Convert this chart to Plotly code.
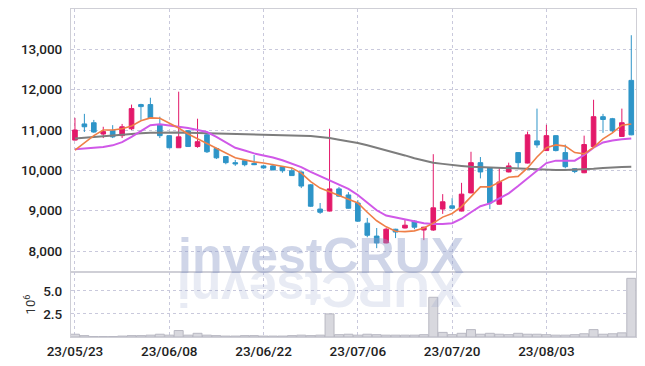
import plotly.graph_objects as go

dates = ["23/05/23", "23/05/24", "23/05/25", "23/05/26", "23/05/30", "23/05/31", "23/06/01", "23/06/02",
         "23/06/05", "23/06/07", "23/06/08", "23/06/09", "23/06/12", "23/06/13", "23/06/14", "23/06/15",
         "23/06/16", "23/06/19", "23/06/20", "23/06/21", "23/06/22", "23/06/23", "23/06/26", "23/06/27",
         "23/06/28", "23/06/29", "23/06/30", "23/07/03", "23/07/04", "23/07/05", "23/07/06", "23/07/07",
         "23/07/10", "23/07/11", "23/07/12", "23/07/13", "23/07/14", "23/07/17", "23/07/18", "23/07/19",
         "23/07/20", "23/07/21", "23/07/24", "23/07/25", "23/07/26", "23/07/27", "23/07/28", "23/07/31",
         "23/08/01", "23/08/02", "23/08/03", "23/08/04", "23/08/07", "23/08/08", "23/08/09", "23/08/10",
         "23/08/11", "23/08/14", "23/08/16", "23/08/17"]

open_ = [10750, 11150, 11180, 10900, 10980, 10860, 11030, 11630, 11630, 11130,
         10860, 10560, 10980, 10590, 10880, 10540, 10340, 10190, 10240, 10170,
         10110, 10110, 10090, 9990, 9960, 9640, 9040, 8990, 9540, 9390,
         9190, 8690, 8370, 8200, 8540, 8570, 8740, 8520, 8520, 9040,
         9120, 8990, 9440, 10190, 10060, 9160, 9960, 10440, 10180, 10730,
         10490, 10860, 10440, 10040, 9940, 10590, 11330, 11280, 10840, 12230]
high = [11300, 11400, 11250, 11080, 11120, 11150, 11630, 11650, 11800, 11330,
        10870, 11950, 11000, 11280, 10900, 10560, 10350, 10260, 10250, 10380,
        10140, 10160, 10100, 10060, 9970, 9660, 9190, 11030, 9590, 9460,
        9260, 8820, 8570, 8570, 8550, 8790, 8760, 8600, 10400, 9410,
        9310, 9690, 10460, 10330, 10070, 10060, 10190, 10450, 10960, 11530,
        11130, 10870, 10640, 10050, 10860, 11750, 11400, 11300, 11530, 13350]
low = [10740, 10950, 10930, 10800, 10800, 10800, 11000, 11250, 11280, 10800,
       10550, 10560, 10580, 10560, 10430, 10280, 10150, 10110, 10100, 10130,
       10040, 10000, 9940, 9860, 9560, 9090, 8920, 8980, 9350, 9050,
       8730, 8340, 8070, 8190, 8320, 8560, 8540, 8270, 8500, 8920,
       9050, 8980, 9430, 9800, 9040, 9150, 9950, 10060, 10170, 10560,
       10480, 10470, 10050, 9930, 9930, 10580, 10930, 10930, 10830, 10870]
close = [11000, 11080, 10950, 10960, 10830, 11080, 11530, 11580, 11300, 10860,
         10560, 10830, 10590, 10710, 10460, 10310, 10190, 10160, 10140, 10140,
         10060, 10010, 9990, 9870, 9610, 9110, 8960, 9540, 9360, 9060,
         8740, 8390, 8200, 8540, 8470, 8640, 8590, 8590, 9070, 9220,
         9060, 9410, 10190, 9960, 9190, 9710, 10110, 10190, 10880, 10630,
         10860, 10490, 10090, 9970, 10640, 11330, 11260, 10980, 11180, 10880]

ma_short = [10500, 10680, 10860, 11000, 11000, 11030, 11100, 11230, 11300, 11290,
            11180, 11050, 10900, 10780, 10680, 10560, 10430, 10310, 10260, 10210,
            10180, 10140, 10100, 10060, 9930, 9720, 9560, 9470, 9380, 9290,
            9190, 8960, 8750, 8600, 8490, 8480, 8500, 8570, 8690, 8840,
            8930, 9100, 9340, 9590, 9590, 9710, 9830, 9850, 10060, 10330,
            10560, 10630, 10600, 10440, 10410, 10570, 10780, 10930, 11120, 11150]
ma_mid = [10520, 10540, 10560, 10580, 10620, 10700, 10830, 10980, 11120, 11140,
          11110, 11080, 11050, 11000, 10950, 10830, 10690, 10560, 10490, 10420,
          10370, 10320, 10250, 10160, 10080, 9960, 9850, 9750, 9640, 9540,
          9390, 9200, 9010, 8880, 8830, 8790, 8740, 8690, 8670, 8670,
          8690, 8800, 8960, 9110, 9180, 9300, 9430, 9610, 9800, 9990,
          10180, 10240, 10240, 10240, 10380, 10560, 10690, 10740, 10770, 10790]
ma_long = [10790, 10810, 10830, 10850, 10870, 10890, 10900, 10920, 10930, 10935,
           10935, 10935, 10930, 10925, 10920, 10915, 10910, 10905, 10900, 10900,
           10895, 10890, 10880, 10870, 10860, 10850, 10830, 10800, 10760, 10720,
           10680, 10620, 10560, 10500, 10440, 10370, 10300, 10240, 10190, 10160,
           10130, 10110, 10090, 10080, 10070, 10060, 10050, 10040, 10030, 10020,
           10015, 10010, 10010, 10015, 10020, 10040, 10060, 10080, 10085, 10090]

volume = [0.3, 0.15, 0.05, 0.05, 0.05, 0.1, 0.15, 0.15, 0.2, 0.3,
          0.2, 0.7, 0.2, 0.4, 0.2, 0.15, 0.1, 0.1, 0.15, 0.15,
          0.1, 0.1, 0.1, 0.15, 0.2, 0.15, 0.2, 2.5, 0.25, 0.3,
          0.2, 0.3, 0.25, 0.2, 0.2, 0.2, 0.2, 0.25, 4.3, 0.5,
          0.25, 0.4, 0.8, 0.3, 0.4, 0.3, 0.25, 0.4, 0.3, 0.3,
          0.25, 0.2, 0.2, 0.25, 0.35, 0.8, 0.3, 0.35, 0.45, 6.35]

price_ticks = [8000, 9000, 10000, 11000, 12000, 13000]
volume_ticks = [2.5, 5.0]
date_ticks = [dates[i] for i in range(0, 60, 10)]
watermark = "investCRUX"

RED = "#e3196a"
BLUE = "#2e95c8"
GRID = "#c9c9dc"
LINE = "#cfcfd6"
FONT = "Roboto, Liberation Sans, sans-serif"
TICKFONT = dict(family=FONT, size=13.5, color="#1e1e1e", weight=500)

# the page body has an 8px margin, so the figure is sized to fill the window from there
OFF = 8
W, H = 645 - OFF, 366 - OFF
ML, MR, MT, MB = 71 - OFF, 9, 9 - OFF, 29
PW = W - ML - MR
PH = H - MT - MB
VOL_TOP = 0.198

fig = go.Figure()
fig.add_trace(go.Bar(x=dates, y=volume, yaxis="y2",
                     marker=dict(color="#d8d8de", line=dict(color="#b8b8c2", width=1)),
                     showlegend=False))
fig.add_trace(go.Candlestick(x=dates, open=open_, high=high, low=low, close=close,
                             increasing=dict(line=dict(color=RED, width=1), fillcolor=RED),
                             decreasing=dict(line=dict(color=BLUE, width=1), fillcolor=BLUE),
                             whiskerwidth=0, showlegend=False))
fig.add_trace(go.Scatter(x=dates, y=ma_long, mode="lines", line=dict(color="#7d7d7d", width=2), showlegend=False))
fig.add_trace(go.Scatter(x=dates, y=ma_mid, mode="lines", line=dict(color="#d058e8", width=2), showlegend=False))
fig.add_trace(go.Scatter(x=dates, y=ma_short, mode="lines", line=dict(color="#ef7f47", width=1.6), showlegend=False))

# watermark and its mirror image below the panel divider
wm_font = dict(family="Liberation Sans, Arial, sans-serif", size=50)
wm_x = (320.5 - 71) / PW
annotations = [
    dict(text="<b>" + watermark + "</b>", xref="paper", yref="paper",
         x=wm_x, y=VOL_TOP, xanchor="center", yanchor="bottom",
         yshift=-4, height=47, valign="top", borderpad=0,
         showarrow=False, font=dict(color="rgba(140,155,200,0.42)", **wm_font)),
    # a 180-degree turn of the reversed word leaves the letters in reading order, each turned over
    dict(text="<b>" + watermark[::-1] + "</b>", xref="paper", yref="paper",
         x=wm_x, y=VOL_TOP, xanchor="center", yanchor="top",
         yshift=3, height=47, valign="top", borderpad=0, textangle=180,
         showarrow=False, font=dict(color="rgba(140,155,200,0.2)", **wm_font)),
]

fig.update_layout(
    width=W, height=H,
    margin=dict(l=ML, r=MR, t=MT, b=MB, autoexpand=False),
    paper_bgcolor="white", plot_bgcolor="white",
    bargap=0.05,
    showlegend=False,
    font=dict(family=FONT, size=13, color="#222222"),
    annotations=annotations,
    xaxis=dict(type="category", range=[-0.42, 59.5], anchor="y2", automargin=False,
               tickmode="array", tickvals=date_ticks, ticktext=date_ticks,
               showgrid=True, gridcolor=GRID, griddash="dot", gridwidth=1,
               showline=True, linecolor=LINE, mirror="all", ticks="",
               ticklabelstandoff=2,
               rangeslider=dict(visible=False), tickfont=TICKFONT),
    yaxis=dict(domain=[VOL_TOP, 1], range=[7478, 14000], tickvals=price_ticks, tickformat=",d",
               automargin=False,
               showgrid=True, gridcolor=GRID, griddash="dot", gridwidth=1,
               showline=True, linecolor=LINE, mirror=True, ticks="", ticklabelstandoff=5,
               zeroline=False, tickfont=TICKFONT),
    yaxis2=dict(domain=[0, VOL_TOP], range=[0, 7.03], tickvals=volume_ticks, tickformat=".1f",
                automargin=False,
                showgrid=True, gridcolor=GRID, griddash="dot", gridwidth=1,
                showline=True, linecolor=LINE, mirror=True, ticks="", ticklabelstandoff=5,
                zeroline=False, tickfont=TICKFONT,
                title=dict(text="10<sup>6</sup>", standoff=4,
                           font=dict(family=FONT, size=13, color="#333333"))),
)

fig.write_html("out.html")
